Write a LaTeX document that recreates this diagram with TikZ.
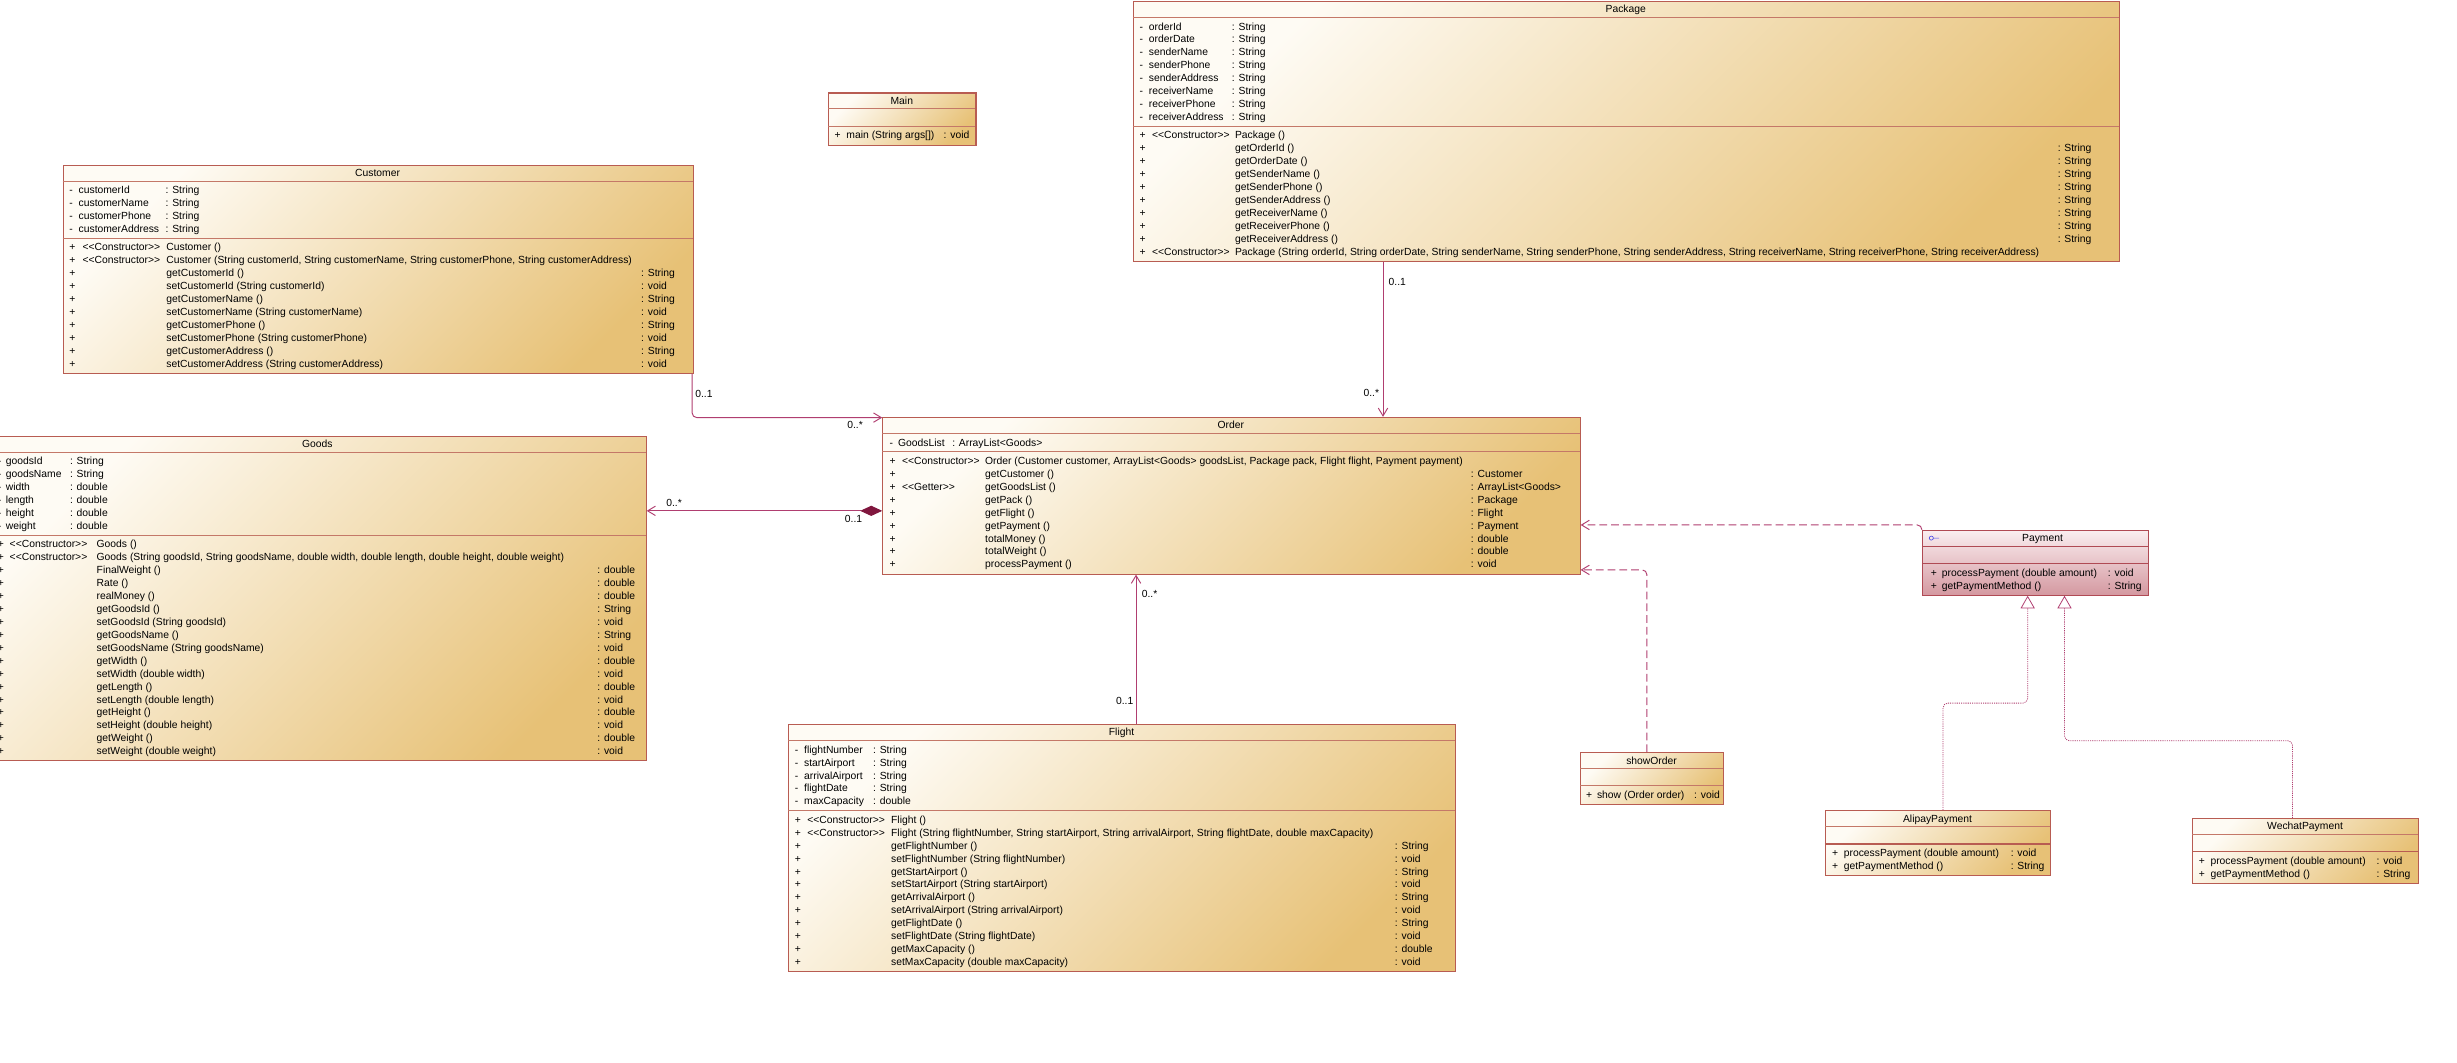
\documentclass[tikz,border=0pt]{standalone}
\usepackage{fontspec}
\newfontfamily\umlfont{Liberation Sans}
\usetikzlibrary{arrows.meta}
\definecolor{bordc}{RGB}{184,92,82}
\definecolor{divc}{RGB}{196,120,104}
\definecolor{lightc}{RGB}{254,251,244}
\definecolor{tanc}{RGB}{231,193,118}
\definecolor{pinkl}{RGB}{250,238,240}
\definecolor{pinkd}{RGB}{212,152,160}
\definecolor{pinkb}{RGB}{176,74,84}
\definecolor{linec}{RGB}{176,62,112}
\definecolor{diamc}{RGB}{128,22,62}
\definecolor{ifc}{RGB}{70,70,230}
\tikzset{
 classbox/.style={draw=bordc, line width=0.7pt, top color=lightc, bottom color=tanc, shading angle=45, inner sep=0pt, anchor=north west},
 ifbox/.style={classbox, draw=pinkb, top color=pinkl, bottom color=pinkd},
 divline/.style={draw=divc, line width=0.6pt},
 ifdiv/.style={draw=pinkb, line width=0.6pt},
 txt/.style={inner sep=0pt, anchor=base west, font=\umlfont\fontsize{6.6}{8}\selectfont},
 ttl/.style={inner sep=0pt, anchor=base, font=\umlfont\fontsize{6.6}{8}\selectfont},
 assoc/.style={draw=linec, line width=0.6pt},
 dep/.style={draw=linec, line width=0.6pt, dash pattern=on 5pt off 2.5pt},
 real/.style={draw=linec, line width=0.5pt, dash pattern=on 0.7pt off 0.7pt},
 openarrow/.style={-{Straight Barb[length=5pt,width=6pt]}},
}
\newcommand\umlrows[4]{%
 \foreach \n [count=\i] in {#4} {\node[txt] (#1\i) at (#2,{#3+(\i-1)*8.25}) {\n};}}
\begin{document}
\begin{tikzpicture}[x=1pt,y=-1pt]
\useasboundingbox (0,0) rectangle (1568,678);
\fill[white] (0,0) rectangle (1568,678);
\clip (0,0) rectangle (1568,678);

% ---------- Package ----------
\node[classbox, minimum width=629pt, minimum height=166pt] (package) at (723,0.5) {};
\node[ttl] (package-t) at (1037.5,8.1) {Package};
\draw[divline] (723,11) -- (1352,11);
\draw[divline] (723,80.5) -- (1352,80.5);
\umlrows{pkg-av}{727}{19.15}{-,-,-,-,-,-,-,-}
\umlrows{pkg-an}{733}{19.15}{orderId,orderDate,senderName,senderPhone,senderAddress,receiverName,receiverPhone,receiverAddress}
\umlrows{pkg-at}{786}{19.15}{: String,: String,: String,: String,: String,: String,: String,: String}
\umlrows{pkg-mv}{727}{88.65}{+,+,+,+,+,+,+,+,+,+}
\node[txt] (pkg-s1) at (735,88.65) {<<Constructor>>};
\node[txt] (pkg-s2) at (735,162.9) {<<Constructor>>};
\umlrows{pkg-mn}{788}{88.65}{{Package ()},{getOrderId ()},{getOrderDate ()},{getSenderName ()},{getSenderPhone ()},{getSenderAddress ()},{getReceiverName ()},{getReceiverPhone ()},{getReceiverAddress ()},{Package (String orderId, String orderDate, String senderName, String senderPhone, String senderAddress, String receiverName, String receiverPhone, String receiverAddress)}}
\umlrows{pkg-mr}{1313}{96.9}{: String,: String,: String,: String,: String,: String,: String,: String}

% ---------- Main ----------
\node[classbox, minimum width=94pt, minimum height=33.25pt] (main) at (528.5,59) {};
\node[ttl] (main-t) at (575.5,66.6) {Main};
\draw[divline] (528.5,69.5) -- (622.5,69.5);
\draw[divline] (528.5,80.5) -- (622.5,80.5);
\node[txt] (main-mv) at (532.5,88.65) {+};
\node[txt] (main-mn) at (540,88.65) {main (String args[])};
\node[txt] (main-mr) at (602,88.65) {: void};

% ---------- Customer ----------
\node[classbox, minimum width=402pt, minimum height=133pt] (customer) at (40,105) {};
\node[ttl] (customer-t) at (241,112.6) {Customer};
\draw[divline] (40,115.5) -- (442,115.5);
\draw[divline] (40,152) -- (442,152);
\umlrows{cus-av}{44}{123.65}{-,-,-,-}
\umlrows{cus-an}{50}{123.65}{customerId,customerName,customerPhone,customerAddress}
\umlrows{cus-at}{105.5}{123.65}{: String,: String,: String,: String}
\umlrows{cus-mv}{44}{160.15}{+,+,+,+,+,+,+,+,+,+}
\umlrows{cus-s}{52.5}{160.15}{<<Constructor>>,<<Constructor>>}
\umlrows{cus-mn}{106}{160.15}{{Customer ()},{Customer (String customerId, String customerName, String customerPhone, String customerAddress)},{getCustomerId ()},{setCustomerId (String customerId)},{getCustomerName ()},{setCustomerName (String customerName)},{getCustomerPhone ()},{setCustomerPhone (String customerPhone)},{getCustomerAddress ()},{setCustomerAddress (String customerAddress)}}
\umlrows{cus-mr}{409}{176.65}{: String,: void,: String,: void,: String,: void,: String,: void}

% ---------- Goods ----------
\node[classbox, minimum width=419pt, minimum height=207.25pt] (goods) at (-7,278) {};
\node[ttl] (goods-t) at (202.5,285.6) {Goods};
\draw[divline] (-7,288.5) -- (412,288.5);
\draw[divline] (-7,341.5) -- (412,341.5);
\umlrows{gds-av}{-1.5}{296.65}{-,-,-,-,-,-}
\umlrows{gds-an}{3.5}{296.65}{goodsId,goodsName,width,length,height,weight}
\umlrows{gds-at}{44.5}{296.65}{: String,: String,: double,: double,: double,: double}
\umlrows{gds-mv}{-1.5}{349.65}{+,+,+,+,+,+,+,+,+,+,+,+,+,+,+,+,+}
\umlrows{gds-s}{6}{349.65}{<<Constructor>>,<<Constructor>>}
\umlrows{gds-mn}{61.5}{349.65}{{Goods ()},{Goods (String goodsId, String goodsName, double width, double length, double height, double weight)},{FinalWeight ()},{Rate ()},{realMoney ()},{getGoodsId ()},{setGoodsId (String goodsId)},{getGoodsName ()},{setGoodsName (String goodsName)},{getWidth ()},{setWidth (double width)},{getLength ()},{setLength (double length)},{getHeight ()},{setHeight (double height)},{getWeight ()},{setWeight (double weight)}}
\umlrows{gds-mr}{381}{366.15}{: double,: double,: double,: String,: void,: String,: void,: double,: void,: double,: void,: double,: void,: double,: void}

% ---------- Order ----------
\node[classbox, minimum width=445pt, minimum height=100pt] (order) at (563,266) {};
\node[ttl] (order-t) at (785.5,273.6) {Order};
\draw[divline] (563,276.5) -- (1008,276.5);
\draw[divline] (563,288.25) -- (1008,288.25);
\node[txt] (ord-av) at (567.5,284.65) {-};
\node[txt] (ord-an) at (573,284.65) {GoodsList};
\node[txt] (ord-at) at (607.5,284.65) {: ArrayList<Goods>};
\umlrows{ord-mv}{567.5}{296.4}{+,+,+,+,+,+,+,+,+}
\node[txt] (ord-s1) at (575.5,296.4) {<<Constructor>>};
\node[txt] (ord-s2) at (575.5,312.9) {<<Getter>>};
\umlrows{ord-mn}{628.5}{296.4}{{Order (Customer customer, ArrayList<Goods> goodsList, Package pack, Flight flight, Payment payment)},{getCustomer ()},{getGoodsList ()},{getPack ()},{getFlight ()},{getPayment ()},{totalMoney ()},{totalWeight ()},{processPayment ()}}
\umlrows{ord-mr}{938.5}{304.65}{: Customer,: ArrayList<Goods>,: Package,: Flight,: Payment,: double,: double,: void}

% ---------- Flight ----------
\node[classbox, minimum width=425.5pt, minimum height=157.75pt] (flight) at (503,462) {};
\node[ttl] (flight-t) at (715.75,469.6) {Flight};
\draw[divline] (503,472.5) -- (928.5,472.5);
\draw[divline] (503,517.25) -- (928.5,517.25);
\umlrows{flt-av}{507}{480.65}{-,-,-,-,-}
\umlrows{flt-an}{513}{480.65}{flightNumber,startAirport,arrivalAirport,flightDate,maxCapacity}
\umlrows{flt-at}{557}{480.65}{: String,: String,: String,: String,: double}
\umlrows{flt-mv}{507}{525.4}{+,+,+,+,+,+,+,+,+,+,+,+}
\umlrows{flt-s}{515}{525.4}{<<Constructor>>,<<Constructor>>}
\umlrows{flt-mn}{568.5}{525.4}{{Flight ()},{Flight (String flightNumber, String startAirport, String arrivalAirport, String flightDate, double maxCapacity)},{getFlightNumber ()},{setFlightNumber (String flightNumber)},{getStartAirport ()},{setStartAirport (String startAirport)},{getArrivalAirport ()},{setArrivalAirport (String arrivalAirport)},{getFlightDate ()},{setFlightDate (String flightDate)},{getMaxCapacity ()},{setMaxCapacity (double maxCapacity)}}
\umlrows{flt-mr}{890}{541.9}{: String,: void,: String,: void,: String,: void,: String,: void,: double,: void}

% ---------- showOrder ----------
\node[classbox, minimum width=91pt, minimum height=33.25pt] (showorder) at (1008.5,480) {};
\node[ttl] (showorder-t) at (1054,487.6) {showOrder};
\draw[divline] (1008.5,490.5) -- (1099.5,490.5);
\draw[divline] (1008.5,501.5) -- (1099.5,501.5);
\node[txt] (sho-mv) at (1012,509.65) {+};
\node[txt] (sho-mn) at (1019,509.65) {show (Order order)};
\node[txt] (sho-mr) at (1081,509.65) {: void};

% ---------- Payment (interface) ----------
\node[ifbox, minimum width=144pt, minimum height=41.5pt] (payment) at (1226.5,338) {};
\node[ttl] (payment-t) at (1303.5,345.6) {Payment};
\draw[ifc, line width=0.4pt] (1232.5,343.4) circle (1.3) (1233.8,343.4) -- (1237.5,343.4);
\draw[ifdiv] (1226.5,348.5) -- (1370.5,348.5);
\draw[ifdiv] (1226.5,359.5) -- (1370.5,359.5);
\umlrows{pay-mv}{1232}{367.65}{+,+}
\umlrows{pay-mn}{1239}{367.65}{{processPayment (double amount)},{getPaymentMethod ()}}
\umlrows{pay-mr}{1345}{367.65}{: void,: String}

% ---------- AlipayPayment ----------
\node[classbox, minimum width=144pt, minimum height=41.5pt] (alipay) at (1164.5,517) {};
\node[ttl] (alipay-t) at (1236.5,524.6) {AlipayPayment};
\draw[divline] (1164.5,527.5) -- (1308.5,527.5);
\draw[divline, draw=bordc, line width=0.9pt] (1164.5,538.5) -- (1308.5,538.5);
\umlrows{ali-mv}{1169}{546.65}{+,+}
\umlrows{ali-mn}{1176.5}{546.65}{{processPayment (double amount)},{getPaymentMethod ()}}
\umlrows{ali-mr}{1283}{546.65}{: void,: String}

% ---------- WechatPayment ----------
\node[classbox, minimum width=144pt, minimum height=41.5pt] (wechat) at (1399,522) {};
\node[ttl] (wechat-t) at (1471,529.6) {WechatPayment};
\draw[divline] (1399,532.5) -- (1543,532.5);
\draw[divline, draw=bordc, line width=0.9pt] (1399,543.5) -- (1543,543.5);
\umlrows{wec-mv}{1403}{551.65}{+,+}
\umlrows{wec-mn}{1410.5}{551.65}{{processPayment (double amount)},{getPaymentMethod ()}}
\umlrows{wec-mr}{1516.5}{551.65}{: void,: String}

% ---------- connectors ----------
% Customer -> Order
\draw[assoc, openarrow, rounded corners=3pt] ([xshift=-1pt]customer.south east) |- ([yshift=-0.5pt]order.north west);
\node[txt] (m-cus1) at (443.5,253.8) {0..1};
\node[txt] (m-cus2) at (540.5,273.3) {0..*};
% Package -> Order
\coordinate (pk1) at ([xshift=159.6pt]package.south west);
\draw[assoc, openarrow] (pk1) -- (pk1 |- order.north);
\node[txt] (m-pkg1) at (886,182.3) {0..1};
\node[txt] (m-pkg2) at (870,253.3) {0..*};
% Order <>-> Goods
\coordinate (gd1) at ([yshift=-60pt]order.north west);
\draw[assoc, {Diamond[length=14pt,width=6.5pt,fill=diamc,color=diamc]}-{Straight Barb[length=5pt,width=6pt]}] (gd1) -- (goods.east |- gd1);
\node[txt] (m-gds1) at (425,323.3) {0..*};
\node[txt] (m-gds2) at (539,333.3) {0..1};
% Flight -> Order
\coordinate (fl1) at ([xshift=222pt]flight.north west);
\draw[assoc, openarrow] (fl1) -- (fl1 |- order.south);
\node[txt] (m-flt1) at (728.5,381.3) {0..*};
\node[txt] (m-flt2) at (712,449.3) {0..1};
% Payment --> Order
\draw[dep, openarrow, rounded corners=3pt] (payment.north west) |- ([yshift=-69pt]order.north east);
% showOrder --> Order
\coordinate (so1) at ([xshift=42.5pt]showorder.north west);
\draw[dep, openarrow, rounded corners=3pt] (so1) |- ([yshift=3pt]order.south east);
% AlipayPayment ..|> Payment
\coordinate (pa1) at ([xshift=67.5pt]payment.south west);
\coordinate (pa2) at ([yshift=-68.5pt]pa1);
\coordinate (al1) at ([xshift=75.5pt]alipay.north west);
\draw[real, rounded corners=3pt, -{Triangle[open,length=8pt,width=9pt]}] (al1) |- (pa2) -- (pa1);
% WechatPayment ..|> Payment
\coordinate (pa3) at ([xshift=91pt]payment.south west);
\coordinate (pa4) at ([yshift=-92.5pt]pa3);
\coordinate (we1) at ([xshift=64pt]wechat.north west);
\draw[real, rounded corners=3pt, -{Triangle[open,length=8pt,width=9pt]}] (we1) |- (pa4) -- (pa3);
\end{tikzpicture}
\end{document}
